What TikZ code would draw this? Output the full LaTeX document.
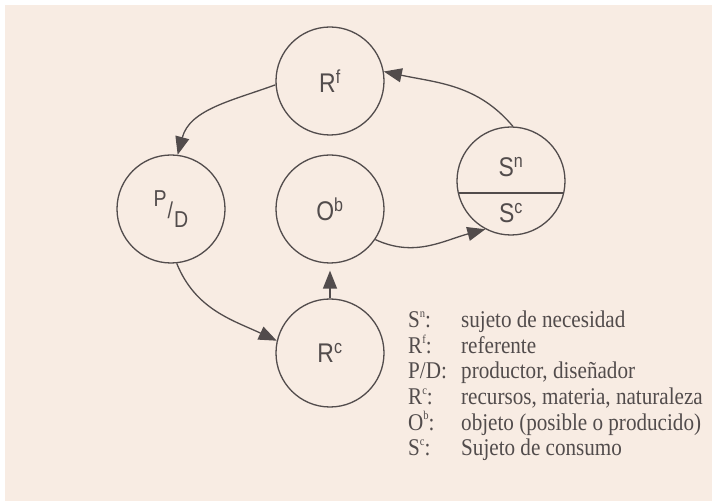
\documentclass[tikz,border=0pt]{standalone}
\usepackage{fontspec}
\setmainfont{Liberation Serif}[FakeStretch=0.88]
\newfontfamily\nodefont{Liberation Sans}[FakeStretch=0.85]
\usetikzlibrary{arrows.meta}
\definecolor{peach}{RGB}{248,236,227}
\definecolor{ink}{RGB}{82,76,76}
\newcommand{\lsup}[1]{\raisebox{0.42em}{\fontsize{12}{12}\selectfont #1}}
\begin{document}
\begin{tikzpicture}[x=1pt,y=1pt,
  circ/.style={circle, draw=ink, line width=1.3pt, minimum size=108pt, inner sep=0pt,
    font=\nodefont\fontsize{27}{27}\selectfont, text=ink},
  lbl/.style={inner sep=0pt, font=\nodefont\fontsize{27}{27}\selectfont, text=ink},
  arr/.style={draw=ink, line width=1.3pt, -{Triangle[length=18pt,width=14pt]}},
  leg/.style={inner sep=0pt, anchor=base west, font=\fontsize{24}{24}\selectfont, text=ink}]
\useasboundingbox (0,0) rectangle (712,-502);
\fill[peach] (5,-5) rectangle (712,-501);
% circles
\node[circ] (rf) at (330,-81) {R\textsuperscript{f}};
\node[circ, font=\nodefont\fontsize{23}{23}\selectfont] (pd) at (171,-209)
  {\raisebox{11pt}{P}\hspace{1pt}\raisebox{-1pt}{/}\hspace{1pt}\raisebox{-10pt}{D}};
\node[circ] (ob) at (330,-209) {O\textsuperscript{b}};
\node[circ] (rc) at (330,-353) {R\textsuperscript{c}};
\node[circ] (s) at (511,-181) {};
\path (s.center) ++(-52.6,-12) coordinate (sl) (s.center) ++(52.6,-12) coordinate (sr);
\draw[ink, line width=1.3pt] (sl) -- (sr);
\node[lbl] (sn) at (511,-167) {S\textsuperscript{n}};
\node[lbl] (sc) at (511,-213) {S\textsuperscript{c}};
% arrows
\draw[arr] (rf.184) to[out=200,in=75] (pd.83);
\draw[arr] (pd.-84) to[out=-68,in=155] (rc.167);
\draw[arr, shorten >=7pt] (rc.90) -- (ob.-90);
\draw[arr] (ob.-34) to[out=-25,in=195] (s.-118);
\draw[arr] (s.88) to[out=130,in=-12] (rf.10);
% legend
\node[leg] (k1) at (408,-328) {S\lsup{n}:};
\node[leg] (d1) at (461,-328) {sujeto de necesidad};
\node[leg] (k2) at (408,-353.5) {R\lsup{f}:};
\node[leg] (d2) at (461,-353.5) {referente};
\node[leg] (k3) at (408,-379) {P/D:};
\node[leg] (d3) at (461,-379) {productor, diseñador};
\node[leg] (k4) at (408,-404.5) {R\lsup{c}:};
\node[leg] (d4) at (461,-404.5) {recursos, materia, naturaleza};
\node[leg] (k5) at (408,-430) {O\lsup{b}:};
\node[leg] (d5) at (461,-430) {objeto (posible o producido)};
\node[leg] (k6) at (408,-455.5) {S\lsup{c}:};
\node[leg] (d6) at (461,-455.5) {Sujeto de consumo};
\end{tikzpicture}
\end{document}
